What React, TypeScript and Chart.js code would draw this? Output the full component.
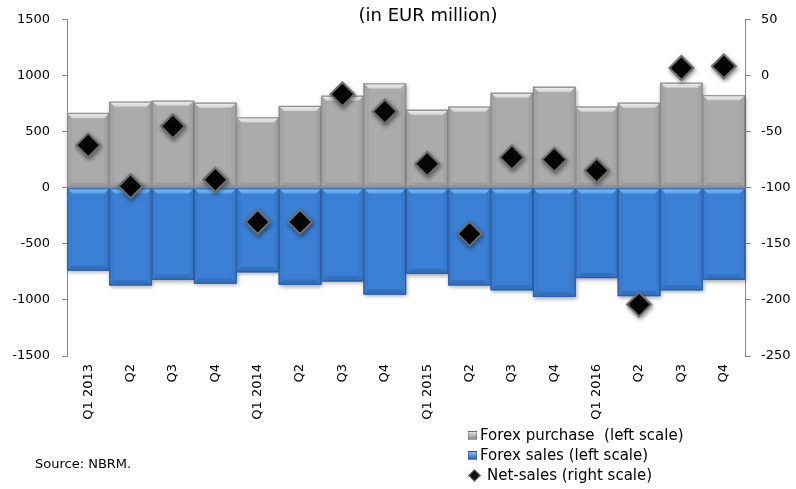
import React, { useEffect, useRef } from "react";
import { Chart, registerables } from "chart.js";

Chart.register(...registerables);

const quarters: string[][] = [
  ["Q1 2013"], ["Q2"], ["Q3"], ["Q4"],
  ["Q1 2014"], ["Q2"], ["Q3"], ["Q4"],
  ["Q1 2015"], ["Q2"], ["Q3"], ["Q4"],
  ["Q1 2016"], ["Q2"], ["Q3"], ["Q4"],
];

const forexPurchase = [667, 769, 778, 760, 629, 731, 822, 932, 696, 725, 848, 901, 725, 760, 938, 827];
const forexSales = [-737, -868, -818, -853, -751, -862, -833, -950, -766, -868, -912, -971, -804, -965, -912, -818];
const netSales = [-62, -98.5, -45, -92.7, -130.4, -130.4, -16.5, -31.8, -78.6, -141, -72.8, -74.8, -84.5, -204, 7, 8.5];

const leftTicks = [-1500, -1000, -500, 0, 500, 1000, 1500];
const rightTicks = [-250, -200, -150, -100, -50, 0, 50];

const FONT = "'DejaVu Sans', Verdana, sans-serif";

// Bevel styling per bar dataset (keyed by dataset index)
const bevelStyles: Record<number, { face: string; top: string; topLight: string; side: string; bottom: string; border: string }> = {
  1: { face: "#ababab", top: "#d2d2d2", topLight: "#f2f2f2", side: "#a5a5a5", bottom: "#9b9b9b", border: "#8a8a8a" },
  2: { face: "#3b80d5", top: "#5ca4ee", topLight: "#7cc0f8", side: "#397bcf", bottom: "#3371c0", border: "#2c5f9f" },
};

const bevelPlugin = {
  id: "bevelBars",
  afterDatasetDraw(chart: any, args: any) {
    const meta = args.meta;
    if (meta.type !== "bar") return;
    const st = bevelStyles[args.index];
    if (!st) return;
    const ctx = chart.ctx;
    const b = 5;
    meta.data.forEach((bar: any) => {
      const { x, y, base, width } = bar.getProps(["x", "y", "base", "width"], true);
      const l = x - width / 2;
      const r = x + width / 2;
      const t = Math.min(y, base);
      const bt = Math.max(y, base);
      ctx.save();
      // face with soft drop shadow
      ctx.shadowColor = "rgba(0,0,0,0.35)";
      ctx.shadowBlur = 4;
      ctx.shadowOffsetX = 1;
      ctx.shadowOffsetY = 2;
      ctx.fillStyle = st.face;
      ctx.fillRect(l, t, r - l, bt - t);
      ctx.restore();
      ctx.save();
      // top bevel
      const tg = ctx.createLinearGradient(0, t, 0, t + b);
      tg.addColorStop(0, st.topLight);
      tg.addColorStop(1, st.top);
      ctx.fillStyle = tg;
      ctx.beginPath();
      ctx.moveTo(l, t);
      ctx.lineTo(r, t);
      ctx.lineTo(r - b, t + b);
      ctx.lineTo(l + b, t + b);
      ctx.closePath();
      ctx.fill();
      // side bevels
      ctx.fillStyle = st.side;
      ctx.beginPath();
      ctx.moveTo(l, t);
      ctx.lineTo(l + b, t + b);
      ctx.lineTo(l + b, bt - b);
      ctx.lineTo(l, bt);
      ctx.closePath();
      ctx.fill();
      ctx.beginPath();
      ctx.moveTo(r, t);
      ctx.lineTo(r - b, t + b);
      ctx.lineTo(r - b, bt - b);
      ctx.lineTo(r, bt);
      ctx.closePath();
      ctx.fill();
      // bottom bevel
      ctx.fillStyle = st.bottom;
      ctx.beginPath();
      ctx.moveTo(l, bt);
      ctx.lineTo(r, bt);
      ctx.lineTo(r - b, bt - b);
      ctx.lineTo(l + b, bt - b);
      ctx.closePath();
      ctx.fill();
      // outline
      ctx.strokeStyle = st.border;
      ctx.lineWidth = 1;
      ctx.strokeRect(l + 0.5, t + 0.5, r - l - 1, bt - t - 1);
      ctx.restore();
    });
  },
};

const diamondShadowPlugin = {
  id: "diamondShadow",
  beforeDatasetDraw(chart: any, args: any) {
    if (args.meta.type !== "line") return;
    const ctx = chart.ctx;
    ctx.save();
    ctx.shadowColor = "rgba(0,0,0,0.4)";
    ctx.shadowBlur = 4;
    ctx.shadowOffsetX = 1;
    ctx.shadowOffsetY = 2;
  },
  afterDatasetDraw(chart: any, args: any) {
    if (args.meta.type !== "line") return;
    chart.ctx.restore();
  },
};

export default function App() {
  const canvasRef = useRef<HTMLCanvasElement | null>(null);

  useEffect(() => {
    const canvas = canvasRef.current;
    if (!canvas) return;
    const chart = new Chart(canvas, {
      type: "bar",
      data: {
        labels: quarters,
        datasets: [
          {
            type: "line",
            label: "Net-sales (right scale)",
            data: netSales,
            yAxisID: "y1",
            showLine: false,
            pointStyle: "rectRot",
            pointRadius: 12,
            pointBackgroundColor: "#050505",
            pointBorderColor: "#6e6e6e",
            pointBorderWidth: 2,
            order: 0,
          } as any,
          {
            label: "Forex purchase  (left scale)",
            data: forexPurchase,
            yAxisID: "y",
            backgroundColor: "#ababab",
            borderWidth: 0,
            barPercentage: 1,
            categoryPercentage: 1,
            order: 2,
          },
          {
            label: "Forex sales (left scale)",
            data: forexSales,
            yAxisID: "y",
            backgroundColor: "#3b80d5",
            borderWidth: 0,
            barPercentage: 1,
            categoryPercentage: 1,
            order: 1,
          },
        ],
      },
      options: {
        responsive: false,
        animation: false,
        layout: { padding: { top: 15, left: 0, right: 0, bottom: 0 } },
        plugins: {
          legend: { display: false },
          tooltip: { enabled: false },
          title: { display: false },
        },
        scales: {
          x: {
            stacked: true,
            offset: true,
            grid: { display: false, drawTicks: false },
            border: { display: false },
            ticks: {
              maxRotation: 90,
              minRotation: 90,
              autoSkip: false,
              padding: 8,
              color: "#000",
              font: { family: FONT, size: 13 },
            },
            afterFit(scale: any) {
              scale.height = 133;
            },
          },
          y: {
            position: "left",
            stacked: true,
            min: -1500,
            max: 1500,
            afterBuildTicks(scale: any) {
              scale.ticks = leftTicks.map((v) => ({ value: v }));
            },
            grid: { drawOnChartArea: false, tickLength: 5, color: "#888" },
            border: { display: true, color: "#888", width: 1 },
            ticks: {
              padding: 12,
              color: "#000",
              font: { family: FONT, size: 13 },
              callback: (v: any) => String(v),
            },
            afterFit(scale: any) {
              scale.width = 67;
            },
          },
          y1: {
            position: "right",
            stacked: false,
            min: -250,
            max: 50,
            afterBuildTicks(scale: any) {
              scale.ticks = rightTicks.map((v) => ({ value: v }));
            },
            grid: { drawOnChartArea: false, tickLength: 6, color: "#888" },
            border: { display: true, color: "#888", width: 1 },
            ticks: {
              padding: 10,
              color: "#000",
              font: { family: FONT, size: 13 },
              callback: (v: any) => String(v),
            },
            afterFit(scale: any) {
              scale.width = 51;
            },
          },
        },
      },
      plugins: [bevelPlugin, diamondShadowPlugin],
    });
    return () => chart.destroy();
  }, []);

  const legendText: React.CSSProperties = {
    fontFamily: FONT,
    fontSize: 15,
    color: "#000",
    lineHeight: "20px",
    whiteSpace: "nowrap",
    display: "flex",
    alignItems: "center",
  };
  const square = (from: string, to: string): React.CSSProperties => ({
    display: "inline-block",
    width: 9,
    height: 9,
    marginRight: 3,
    background: `linear-gradient(${from}, ${to})`,
    border: "1px solid rgba(0,0,0,0.25)",
    boxSizing: "border-box",
  });

  return (
    <div style={{ position: "fixed", left: 0, top: 0, width: 796, height: 489, background: "#fff", overflow: "hidden" }}>
      <canvas ref={canvasRef} width={796} height={489} style={{ position: "absolute", left: 0, top: 0 }} />
      <div
        style={{
          position: "absolute",
          left: 0,
          width: 856,
          top: 4,
          textAlign: "center",
          fontFamily: FONT,
          fontSize: 18,
          color: "#000",
        }}
      >
        (in EUR million)
      </div>
      <div style={{ position: "absolute", left: 35, top: 456, fontFamily: FONT, fontSize: 13, color: "#000" }}>
        Source: NBRM.
      </div>
      <div style={{ position: "absolute", left: 468, top: 425 }}>
        <div style={legendText}>
          <span style={square("#e0e0e0", "#8c8c8c")} />
          Forex purchase&nbsp; (left scale)
        </div>
        <div style={legendText}>
          <span style={square("#7fc0fa", "#2d66b4")} />
          Forex sales (left scale)
        </div>
        <div style={legendText}>
          <span
            style={{
              display: "inline-block",
              width: 7,
              height: 7,
              margin: "0 8px 0 2px",
              background: "#111",
              border: "1px solid #777",
              transform: "rotate(45deg)",
            }}
          />
          Net-sales (right scale)
        </div>
      </div>
    </div>
  );
}
